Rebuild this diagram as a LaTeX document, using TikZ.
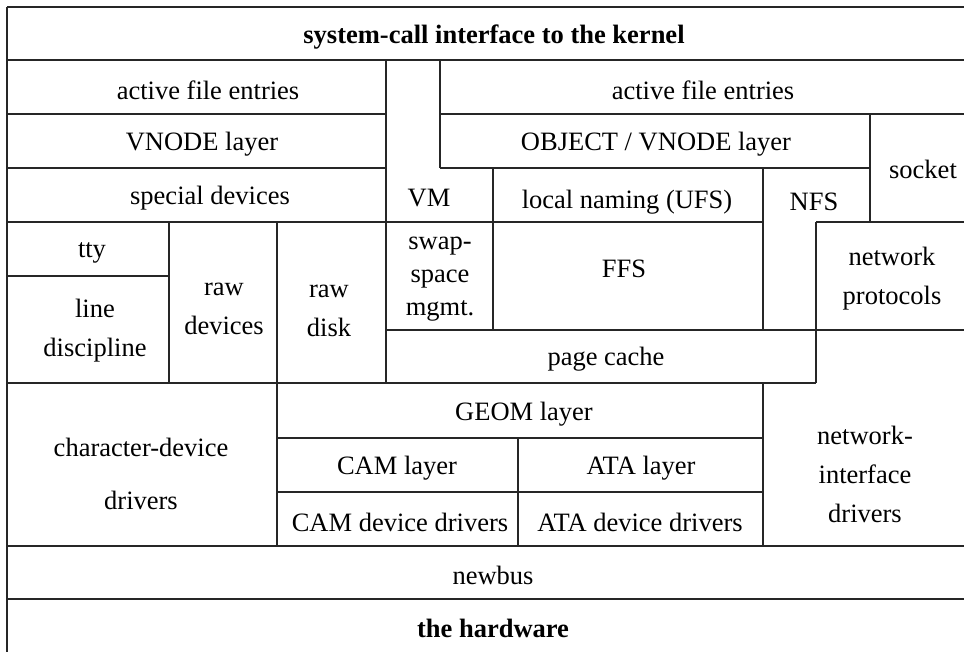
\documentclass[tikz,border=0pt]{standalone}
\usepackage{fontspec}
\setmainfont{Liberation Serif}
\tikzset{
	layer/.style={font=\fontsize{13.25}{19.5}\selectfont, align=center, inner sep=0pt, yshift=-1.5pt},
	rule/.style={line width=1pt, black!85}
}
\begin{document}
\begin{tikzpicture}[x=0.5pt, y=-0.5pt]
		\useasboundingbox (0,0) rectangle (964,652);
		\clip (0,0) rectangle (964,652);
		% horizontal rules
		\draw[rule] (7,7) -- (990,7);
		\draw[rule] (7,60) -- (990,60);
		\draw[rule] (7,114) -- (386,114) (440,114) -- (990,114);
		\draw[rule] (7,168) -- (386,168) (440,168) -- (870,168);
		\draw[rule] (7,222) -- (763,222) (816,222) -- (990,222);
		\draw[rule] (7,276) -- (169,276);
		\draw[rule] (386,330) -- (990,330);
		\draw[rule] (7,383) -- (816,383);
		\draw[rule] (277,438) -- (763,438) (277,492) -- (763,492);
		\draw[rule] (7,546) -- (990,546) (7,599) -- (990,599);
		% vertical rules
		\draw[rule] (7,7) -- (7,660);
		\draw[rule] (169,222) -- (169,383);
		\draw[rule] (277,222) -- (277,546);
		\draw[rule] (386,60) -- (386,383);
		\draw[rule] (440,60) -- (440,168);
		\draw[rule] (493,168) -- (493,330);
		\draw[rule] (763,168) -- (763,330) (763,383) -- (763,546);
		\draw[rule] (816,222) -- (816,383);
		\draw[rule] (870,114) -- (870,222);
		\draw[rule] (518,438) -- (518,546);
		% labels
		\draw (494,34) node[layer] (syscall) {\textbf{system-call interface to the kernel}};
		\draw (208,87) node[layer] (filesL) {active file entries};
		\draw (202,141) node[layer] (vnode) {VNODE layer};
		\draw (210,195) node[layer] (special) {special devices};
		\draw (429,195) node[layer] (vm) {VM};
		\draw (92,250) node[layer] (tty) {tty};
		\draw (95,328) node[layer] (linedisc) {line\\discipline};
		\draw (224,306) node[layer] (rawdev) {raw\\devices};
		\draw (329,308) node[layer] (rawdisk) {raw\\disk};
		\draw (440,276) node[layer, font=\fontsize{13.25}{16.5}\selectfont] (swap) {swap-\\space\\mgmt.};
		\draw (703,87) node[layer] (filesR) {active file entries};
		\draw (656,141) node[layer] (objvnode) {OBJECT / VNODE layer};
		\draw (923,166) node[layer] (socket) {socket};
		\draw (627,199) node[layer] (naming) {local naming (UFS)};
		\draw (814,199) node[layer] (nfs) {NFS};
		\draw (624,266) node[layer] (ffs) {FFS};
		\draw (892,276) node[layer] (netproto) {network\\protocols};
		\draw (606,356) node[layer] (pagecache) {page cache};
		\draw (524,411) node[layer] (geom) {GEOM layer};
		\draw (397,465) node[layer] (camlayer) {CAM layer};
		\draw (641,465) node[layer] (atalayer) {ATA layer};
		\draw (400,519) node[layer] (camdrv) {CAM device drivers};
		\draw (640,519) node[layer] (atadrv) {ATA device drivers};
		\draw (141,471) node[layer, font=\fontsize{13.25}{26.5}\selectfont] (chardrv) {character-device\\drivers};
		\draw (865,471) node[layer] (netdrv) {network-\\interface\\drivers};
		\draw (493,572) node[layer] (newbus) {newbus};
		\draw (493,625) node[layer] (hardware) {\textbf{the hardware}};
	\end{tikzpicture}
\end{document}
